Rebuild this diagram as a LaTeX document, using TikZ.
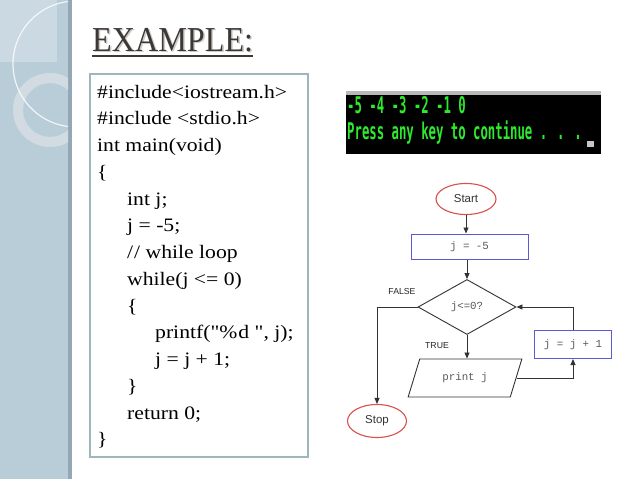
\documentclass[tikz,border=0pt]{standalone}
\usepackage{fontspec}
\setmainfont{Liberation Serif}
\newfontfamily\codefont[FakeStretch=1.14]{Liberation Serif}
\newfontfamily\titlefont[FakeStretch=0.92]{Liberation Serif}
\newfontfamily\termfont[FakeStretch=0.535]{DejaVu Sans Mono}
\newfontfamily\flowsans{Liberation Sans}
\newfontfamily\flowmono{Liberation Mono}
\usetikzlibrary{shapes.geometric,arrows.meta}
\definecolor{sidebar}{HTML}{B9CDD9}
\definecolor{sidebardark}{HTML}{93A8B4}
\definecolor{ringcol}{HTML}{D5DDE2}
\definecolor{titlecol}{HTML}{3D3834}
\definecolor{boxcol}{HTML}{9FB6BE}
\definecolor{termgreen}{HTML}{2EEA2E}
\definecolor{ellred}{HTML}{D9504C}
\definecolor{boxblue}{HTML}{5A5AD8}
\definecolor{flowline}{HTML}{333333}
\tikzset{
  codeline/.style={anchor=base west, inner sep=0, font=\codefont\fontsize{19}{23}\selectfont, text=black},
  titletext/.style={anchor=base west, inner sep=0, font=\titlefont\fontsize{35}{35}\selectfont},
  termline/.style={anchor=base west, inner sep=0, font=\termfont\bfseries\fontsize{23}{23}\selectfont, text=termgreen},
  termnode/.style={ellipse, draw=ellred, line width=1.1pt, inner sep=0, font=\flowsans\fontsize{11.5}{12}\selectfont, text=black!80},
  procbox/.style={rectangle, draw=boxblue, line width=1pt, inner sep=0, font=\flowmono\fontsize{10.8}{12}\selectfont, text=black!65},
  decision/.style={diamond, draw=flowline, line width=0.9pt, inner sep=0, aspect=1.78, font=\flowmono\fontsize{10.8}{12}\selectfont, text=black!65},
  iobox/.style={trapezium, trapezium left angle=60, trapezium right angle=120, trapezium stretches=true, draw=flowline, line width=0.9pt, inner sep=0, font=\flowmono\fontsize{10.8}{12}\selectfont, text=black!65},
  lbl/.style={inner sep=0, font=\flowsans\fontsize{8.7}{10}\selectfont, text=black!85},
  flow/.style={draw=flowline, line width=0.9pt},
  flowarrow/.style={flow, -{Triangle[length=6pt,width=5pt]}}
}
\begin{document}
\begin{tikzpicture}[x=1pt,y=-1pt]
\useasboundingbox (0,0) rectangle (638,479);
\fill[white] (0,0) rectangle (638,479);
% sidebar
\fill[sidebar] (0,0) rectangle (68,479);
\fill[sidebardark] (68,0) rectangle (72,479);
\begin{scope}
  \clip (0,0) rectangle (68,479);
  \fill[white, opacity=0.25] (0,0) rectangle (57,62);
  \fill[ringcol, opacity=0.9, even odd rule] (50,110) circle (37) (50,110) circle (27);
  \draw[white, opacity=0.8, line width=1.2pt] (76,64) circle (63);
\end{scope}
% title
\node[titletext, text=gray!40] (titleshadow) at (93.5,52.5) {EXAMPLE:};
\node[titletext, text=titlecol] (title) at (92,51) {EXAMPLE:};
\draw[titlecol, line width=2pt] (92,55.5) -- (253,55.5);
% code box
\draw[boxcol, line width=1.5pt] (90,74) rectangle (308,457);
\node[codeline] (c1) at (97,98) {\#include<iostream.h>};
\node[codeline] (c2) at (97,124.75) {\#include <stdio.h>};
\node[codeline] (c3) at (97,151.5) {int main(void)};
\node[codeline] (c4) at (97,178.25) {\{};
\node[codeline] (c5) at (127,205) {int j;};
\node[codeline] (c6) at (127,231.75) {j = -5;};
\node[codeline] (c7) at (127,258.5) {/\kern1pt/ while loop};
\node[codeline] (c8) at (127,285.25) {while(j <= 0)};
\node[codeline] (c9) at (127,312) {\{};
\node[codeline] (c10) at (155,338.75) {printf("\%\kern1pt d ", j);};
\node[codeline] (c11) at (155,365.5) {j = j + 1;};
\node[codeline] (c12) at (127,392.25) {\}};
\node[codeline] (c13) at (127,419) {return 0;};
\node[codeline] (c14) at (97,445.75) {\}};
% terminal
\fill[black] (346,93) rectangle (601,154);
\fill[gray!55] (346,91) rectangle (601,95);
\node[termline] (t1) at (347,113) {-5 -4 -3 -2 -1 0};
\node[termline] (t2) at (347,139) {Press any key to continue . . .};
\fill[gray!45] (587,141) rectangle (594,147);
% flowchart
\node[termnode, minimum width=60pt, minimum height=31pt] (start) at (466,199) {Start};
\node[procbox, minimum width=117pt, minimum height=25pt] (init) at (469.5,246.5) {j = -5};
\node[decision, minimum width=98pt, minimum height=55pt] (cond) at (467,307) {j<=0?};
\node[iobox, minimum width=114pt, minimum height=38pt] (print) at (465,378) {print j};
\node[procbox, minimum width=77pt, minimum height=28pt] (inc) at (573,344.5) {j = j + 1};
\node[termnode, minimum width=59pt, minimum height=33pt] (stop) at (377,421) {Stop};
\node[lbl] (false) at (402,292) {FALSE};
\node[lbl] (true) at (437,346) {TRUE};
\draw[flowarrow] (start.south) -- (start.south |- init.north);
\draw[flowarrow] (cond.north |- init.south) -- (cond.north);
\draw[flowarrow] (cond.south) -- (cond.south |- print.north);
\draw[flowarrow] (print.east) -| (inc.south);
\draw[flowarrow] (inc.north) |- (cond.east);
\draw[flowarrow] (cond.west) -| (stop.north);
\end{tikzpicture}
\end{document}
